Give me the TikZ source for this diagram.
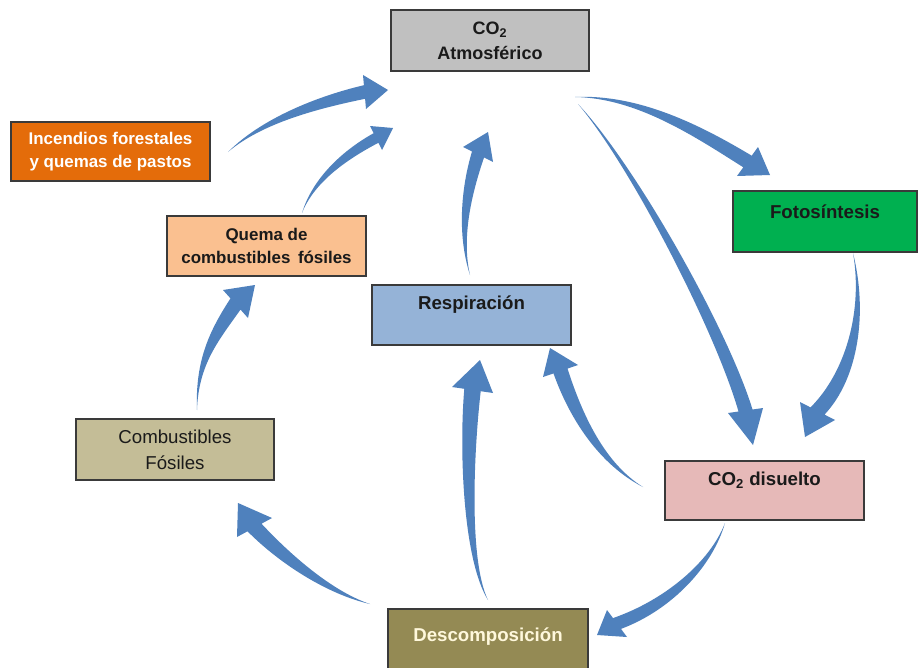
\documentclass[tikz,border=0pt]{standalone}
\usepackage{fontspec}
\setmainfont{Liberation Sans}
\usetikzlibrary{calc}
\definecolor{arrowblue}{HTML}{4F81BD}
\definecolor{bordc}{HTML}{3A3A3A}
\definecolor{cgray}{HTML}{C0C0C0}
\definecolor{corange}{HTML}{E46C0A}
\definecolor{cpeach}{HTML}{FAC090}
\definecolor{cgreen}{HTML}{00B050}
\definecolor{cblue}{HTML}{95B3D7}
\definecolor{ctan}{HTML}{C4BD97}
\definecolor{cpink}{HTML}{E6B9B8}
\definecolor{colive}{HTML}{948A54}
\definecolor{ccream}{HTML}{FFF8DC}
\definecolor{ctext}{HTML}{1A1A1A}
% tapered curved arrow: #1 tail, #2 #3 controls, #4 barb, #5 tip, #6 barb
\newcommand\tarr[6]{\fill[arrowblue] #1 .. controls #2 and #3 .. ($#4!0.3!#6$) -- #4 -- #5 -- #6 -- ($#4!0.7!#6$) .. controls ($#3+0.36*#6-0.36*#4$) and ($#2+0.14*#6-0.14*#4$) .. #1 -- cycle;}
\tikzset{
  box/.style={draw=bordc, line width=0.8pt, rectangle, inner sep=0pt, align=center, text=ctext},
  bigtxt/.style={font=\bfseries\fontsize{14}{19}\selectfont, align=center, text=ctext, inner sep=0pt},
  smalltxt/.style={font=\bfseries\fontsize{12.7}{16.8}\selectfont},
}
\begin{document}
\begin{tikzpicture}[x=0.75pt,y=-0.75pt]
\clip (0,0) rectangle (920,667);
\fill[white] (0,0) rectangle (920,667);

% arrows
\tarr{(228,152)}{(262,118)}{(318,96)}{(363,75)}{(388,90)}{(366,109)}
\tarr{(302,213)}{(312,180)}{(340,152)}{(370,126)}{(393,128)}{(382,150)}
\tarr{(470,275)}{(457,235)}{(461,188)}{(463,147)}{(488,132)}{(493,162)}
\tarr{(575,97)}{(640,94)}{(702,126)}{(758,147)}{(770,175)}{(737,176)}
\tarr{(578,104)}{(630,165)}{(715,330)}{(728,413)}{(753,445)}{(763,408)}
\tarr{(853,253)}{(863,310)}{(846,372)}{(800,402)}{(805,437)}{(835,420)}
\tarr{(643,487)}{(600,465)}{(570,420)}{(543,377)}{(550,348)}{(578,365)}
\tarr{(725,523)}{(710,562)}{(665,600)}{(607,610)}{(597,635)}{(627,637)}
\tarr{(488,600)}{(463,560)}{(459,450)}{(452,387)}{(480,360)}{(493,393)}
\tarr{(370,604)}{(330,595)}{(282,566)}{(237,537)}{(238,503)}{(272,518)}
\tarr{(197,410)}{(195,360)}{(210,330)}{(223,290)}{(255,285)}{(248,318)}

% boxes
\node[box, fill=cgray, minimum width=148.5pt, minimum height=45.75pt, font=\bfseries\fontsize{13.5}{18.5}\selectfont] (atm) at (490,40.5) {CO\textsubscript{2}\\Atmosférico};
\node[box, fill=corange, minimum width=149.25pt, minimum height=44.25pt, text=white, smalltxt] (inc) at (110.5,151.5) {Incendios forestales\\y quemas de pastos};
\node[box, fill=cpeach, minimum width=149.25pt, minimum height=45pt, smalltxt] (quema) at (266.5,246) {Quema de\\combustibles \,fósiles};
\node[box, fill=cgreen, minimum width=138pt, minimum height=45.75pt] (foto) at (825,221.5) {};
\node[bigtxt] (fotot) at (825,212) {Fotosíntesis};
\node[box, fill=cblue, minimum width=149.25pt, minimum height=45pt] (resp) at (471.5,315) {};
\node[bigtxt] (respt) at (471.5,305) {Respiración};
\node[box, fill=ctan, minimum width=148.5pt, minimum height=45.75pt, font=\fontsize{14}{19.5}\selectfont] (comb) at (175,449.5) {Combustibles\\Fósiles};
\node[box, fill=cpink, minimum width=149.25pt, minimum height=44.25pt] (dis) at (764.5,490.5) {};
\node[bigtxt] (dist) at (764.5,480) {CO\textsubscript{2} disuelto};
\node[box, fill=colive, minimum width=150pt, minimum height=49.5pt] (desc) at (488,642) {};
\node[bigtxt, text=ccream] (desct) at (488,637) {Descomposición};
\end{tikzpicture}
\end{document}
